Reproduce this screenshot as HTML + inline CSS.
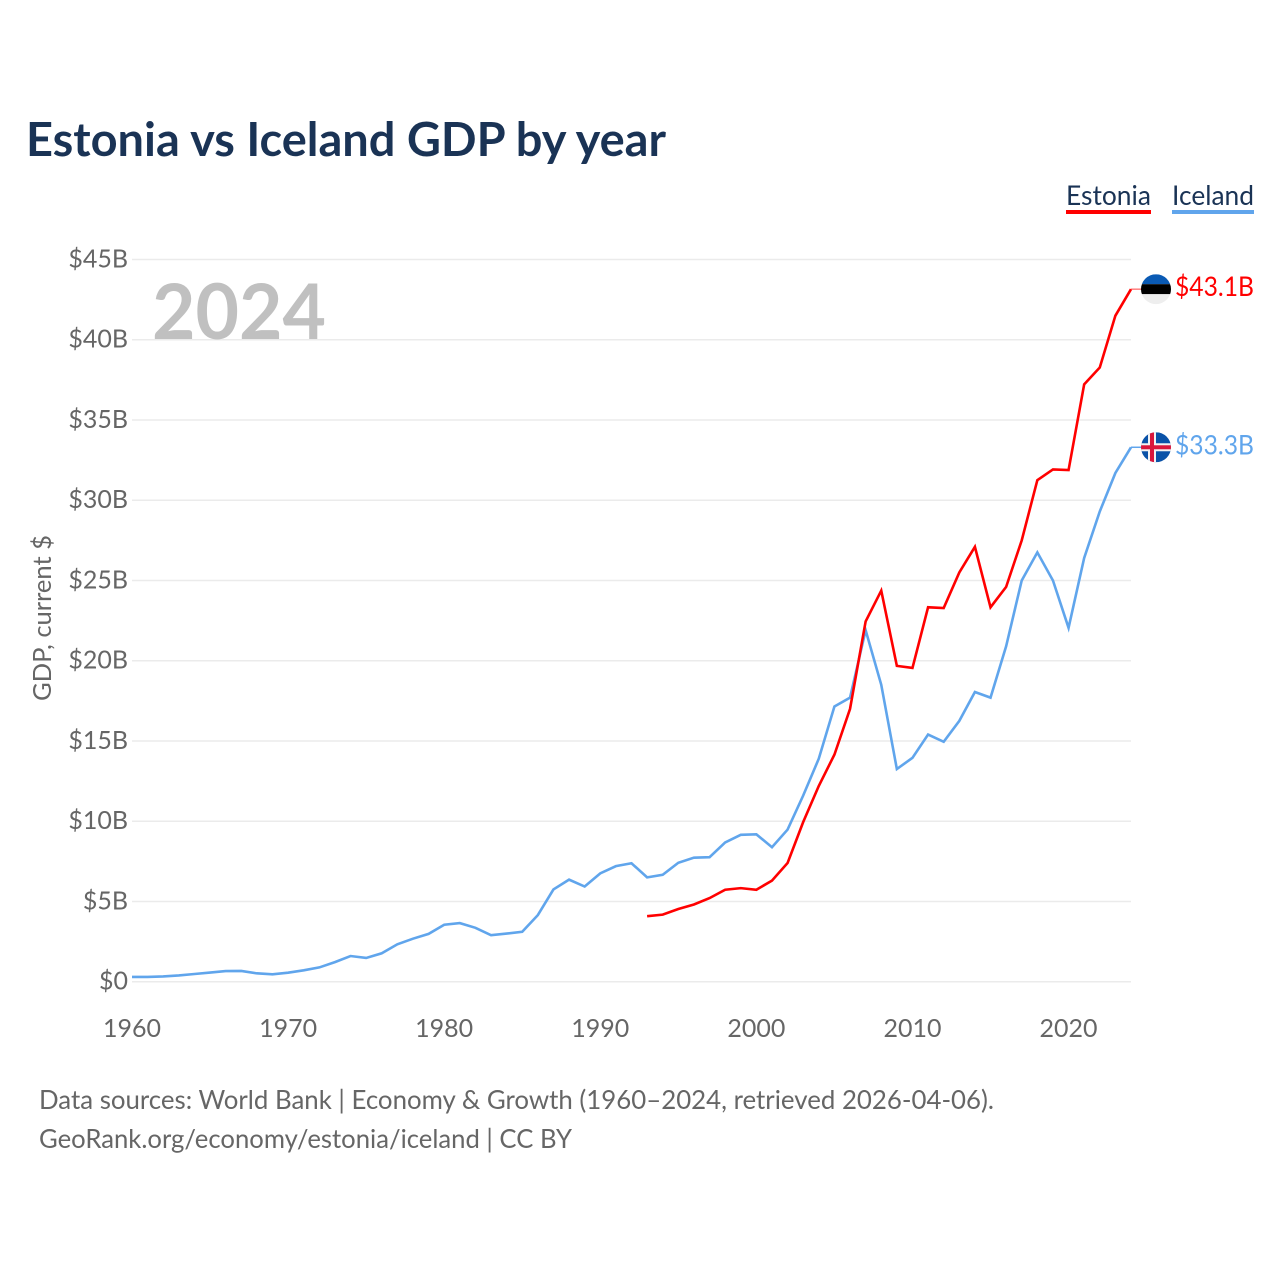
<!DOCTYPE html>
<html lang="en">
<head>
<meta charset="utf-8">
<title>Estonia vs Iceland GDP by year</title>
<style>
html,body{margin:0;padding:0;background:#fff;}
svg{display:block;font-family:"Lato","Carlito","Liberation Sans",sans-serif;}
</style>
</head>
<body>
<svg id="chart" xmlns="http://www.w3.org/2000/svg" width="1280" height="1280" viewBox="0 0 1280 1280">
  <rect width="1280" height="1280" fill="#fff"/>
  <text x="26" y="156" font-size="47" font-weight="700" fill="#1a3355" textLength="640" lengthAdjust="spacingAndGlyphs">Estonia vs Iceland GDP by year</text>
  <g id="legend">
    <g>
      <text x="1066" y="205" font-size="27" fill="#1a3355" textLength="85" lengthAdjust="spacingAndGlyphs">Estonia</text>
      <rect x="1066" y="210" width="85" height="4" fill="#ff0000"/>
    </g>
    <g>
      <text x="1172" y="205" font-size="27" fill="#1a3355" textLength="82" lengthAdjust="spacingAndGlyphs">Iceland</text>
      <rect x="1172" y="210" width="82" height="4" fill="#60a5ec"/>
    </g>
  </g>
  <g id="grid"></g>
  <g id="yticks"></g>
  <g id="xticks"></g>
  <text x="152" y="339" font-size="77" font-weight="700" fill="#c0c0c0" textLength="174" lengthAdjust="spacingAndGlyphs">2024</text>
  <text transform="translate(51,701) rotate(-90)" font-size="25" fill="#666" textLength="166" lengthAdjust="spacingAndGlyphs">GDP, current $</text>
  <g id="series"></g>
  <defs>
    <clipPath id="clip-est"><circle cx="0" cy="0" r="15"/></clipPath>
    <clipPath id="clip-isl"><circle cx="0" cy="0" r="15"/></clipPath>
  </defs>
  <g id="flag-estonia" clip-path="url(#clip-est)">
    <rect x="-15" y="-15" width="30" height="10" fill="#0a5ab4"/>
    <rect x="-15" y="-5" width="30" height="10" fill="#000"/>
    <rect x="-15" y="5" width="30" height="10" fill="#eeeeee"/>
  </g>
  <g id="flag-iceland" clip-path="url(#clip-isl)">
    <rect x="-15" y="-15" width="30" height="30" fill="#0a52a8"/>
    <rect x="-15" y="-4" width="30" height="8" fill="#f2f2f2"/>
    <rect x="-8" y="-15" width="8" height="30" fill="#f2f2f2"/>
    <rect x="-15" y="-2" width="30" height="4" fill="#d9163c"/>
    <rect x="-6" y="-15" width="4" height="30" fill="#d9163c"/>
  </g>
  <text id="value-estonia" x="1175" font-size="27" fill="#ff0000" textLength="79" lengthAdjust="spacingAndGlyphs"></text>
  <text id="value-iceland" x="1175" font-size="27" fill="#60a5ec" textLength="79" lengthAdjust="spacingAndGlyphs"></text>
  <text x="39" y="1109" font-size="26.5" fill="#666" textLength="955" lengthAdjust="spacingAndGlyphs">Data sources: World Bank | Economy &amp; Growth (1960–2024, retrieved 2026-04-06).</text>
  <text x="39" y="1148" font-size="26.5" fill="#666" textLength="533" lengthAdjust="spacingAndGlyphs">GeoRank.org/economy/estonia/iceland | CC BY</text>
</svg>
<script>
const yTickValues = [0, 5, 10, 15, 20, 25, 30, 35, 40, 45];
const yTickLabels = ["$0", "$5B", "$10B", "$15B", "$20B", "$25B", "$30B", "$35B", "$40B", "$45B"];
const xTickValues = [1960, 1970, 1980, 1990, 2000, 2010, 2020];
const xTickLabels = ["1960", "1970", "1980", "1990", "2000", "2010", "2020"];
const icelandStartYear = 1960;
const icelandValues = [0.30, 0.30, 0.33, 0.39, 0.48, 0.57, 0.66, 0.67, 0.52, 0.46, 0.56, 0.71, 0.89, 1.22, 1.60, 1.48, 1.77, 2.33, 2.68, 2.98, 3.55, 3.65, 3.36, 2.90, 3.00, 3.11, 4.15, 5.75, 6.36, 5.93, 6.75, 7.20, 7.38, 6.50, 6.66, 7.41, 7.73, 7.76, 8.68, 9.15, 9.18, 8.38, 9.48, 11.6, 13.9, 17.15, 17.7, 21.9, 18.5, 13.25, 13.95, 15.4, 14.95, 16.25, 18.05, 17.7, 20.9, 25.0, 26.75, 25.0, 22.05, 26.4, 29.3, 31.7, 33.3];
const estoniaStartYear = 1993;
const estoniaValues = [4.08, 4.18, 4.53, 4.81, 5.21, 5.73, 5.83, 5.73, 6.3, 7.4, 9.95, 12.2, 14.15, 17.0, 22.45, 24.37, 19.68, 19.55, 23.33, 23.28, 25.5, 27.1, 23.33, 24.6, 27.5, 31.25, 31.92, 31.88, 37.22, 38.27, 41.5, 43.15];
const estoniaEndLabel = "$43.1B";
const icelandEndLabel = "$33.3B";

const NS = "http://www.w3.org/2000/svg";
function xScale(year) { return 132 + (year - 1960) * (1131 - 132) / 64; }
function yScale(v) { return 981.7 - v * (981.7 - 259.5) / 45; }

const grid = document.getElementById("grid");
const yticks = document.getElementById("yticks");
const xticks = document.getElementById("xticks");
const series = document.getElementById("series");

yTickValues.forEach(function (v, i) {
  const line = document.createElementNS(NS, "line");
  
  
  line.setAttribute("x1", 132);
  line.setAttribute("x2", 1131);
  line.setAttribute("y1", yScale(v));
  line.setAttribute("y2", yScale(v));
  line.setAttribute("stroke", "#ebebeb");
  line.setAttribute("stroke-width", "1.5");
  grid.appendChild(line);

  const label = document.createElementNS(NS, "text");
  
  
  label.setAttribute("x", 128);
  label.setAttribute("y", yScale(v) + 8);
  label.setAttribute("text-anchor", "end");
  label.setAttribute("font-size", "25");
  label.setAttribute("fill", "#666");
  label.textContent = yTickLabels[i];
  yticks.appendChild(label);
});

xTickValues.forEach(function (yr, i) {
  const label = document.createElementNS(NS, "text");
  
  
  label.setAttribute("x", xScale(yr));
  label.setAttribute("y", 1037);
  label.setAttribute("text-anchor", "middle");
  label.setAttribute("font-size", "25");
  label.setAttribute("fill", "#666");
  label.textContent = xTickLabels[i];
  xticks.appendChild(label);
});

function pointsFor(values, startYear) {
  return values.map(function (v, i) {
    return xScale(startYear + i).toFixed(2) + "," + yScale(v).toFixed(2);
  }).join(" ");
}

const icelandLine = document.createElementNS(NS, "polyline");


icelandLine.setAttribute("points", pointsFor(icelandValues, icelandStartYear));
icelandLine.setAttribute("fill", "none");
icelandLine.setAttribute("stroke", "#60a5ec");
icelandLine.setAttribute("stroke-width", "2.6");
series.appendChild(icelandLine);

const estoniaLine = document.createElementNS(NS, "polyline");


estoniaLine.setAttribute("points", pointsFor(estoniaValues, estoniaStartYear));
estoniaLine.setAttribute("fill", "none");
estoniaLine.setAttribute("stroke", "#ff0000");
estoniaLine.setAttribute("stroke-width", "2.6");
series.appendChild(estoniaLine);

const estEnd = yScale(estoniaValues[estoniaValues.length - 1]);
const islEnd = yScale(icelandValues[icelandValues.length - 1]);

const estConnector = document.createElementNS(NS, "line");


estConnector.setAttribute("x1", 1131);
estConnector.setAttribute("x2", 1142);
estConnector.setAttribute("y1", estEnd);
estConnector.setAttribute("y2", estEnd);
estConnector.setAttribute("stroke", "#ff0000");
estConnector.setAttribute("stroke-opacity", "0.5");
estConnector.setAttribute("stroke-width", "1.5");
series.appendChild(estConnector);

const islConnector = document.createElementNS(NS, "line");


islConnector.setAttribute("x1", 1131);
islConnector.setAttribute("x2", 1142);
islConnector.setAttribute("y1", islEnd);
islConnector.setAttribute("y2", islEnd);
islConnector.setAttribute("stroke", "#60a5ec");
islConnector.setAttribute("stroke-width", "1.5");
series.appendChild(islConnector);

document.getElementById("flag-estonia").setAttribute("transform", "translate(1156," + estEnd + ")");
document.getElementById("flag-iceland").setAttribute("transform", "translate(1156," + islEnd + ")");

const estValue = document.getElementById("value-estonia");
estValue.setAttribute("y", estEnd + 7);
estValue.textContent = estoniaEndLabel;
const islValue = document.getElementById("value-iceland");
islValue.setAttribute("y", islEnd + 7);
islValue.textContent = icelandEndLabel;
</script>
</body>
</html>
